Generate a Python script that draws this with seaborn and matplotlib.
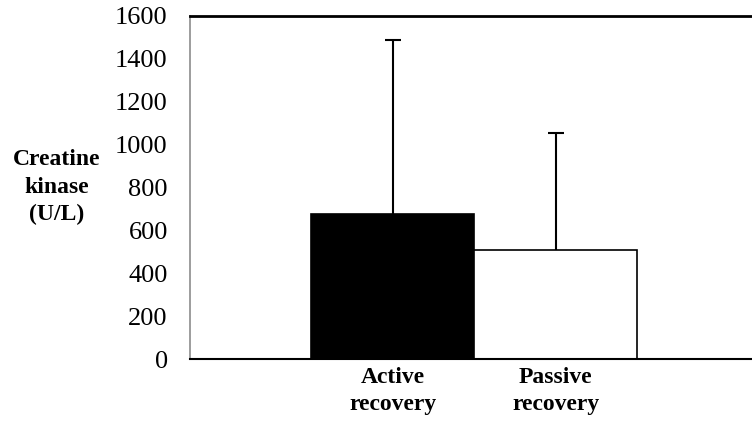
import matplotlib
matplotlib.use("Agg")
import matplotlib.pyplot as plt
import seaborn as sns

# 資料
groups = ["Active\nrecovery", "Passive\nrecovery"]
means = [676, 510]
sd_upper = [814, 545]
bar_colors = ["#000000", "#ffffff"]

sns.set_theme(style="white")
plt.rcParams['font.family'] = ['Liberation Serif', 'DejaVu Serif']
plt.rcParams['text.color'] = 'black'
plt.rcParams['axes.labelcolor'] = 'black'
plt.rcParams['xtick.color'] = 'black'
plt.rcParams['ytick.color'] = 'black'

fig = plt.figure(figsize=(7.52, 4.21), dpi=100)
ax = fig.add_axes([190 / 752, 62 / 421, 562 / 752, 343 / 421])

sns.barplot(x=groups, y=means, hue=groups, palette=bar_colors, legend=False,
            width=1.0, edgecolor="black", linewidth=1.2, errorbar=None, ax=ax)

# 只畫向上的誤差線 (隱藏下方的 cap)
eb = ax.errorbar([0, 1], means, yerr=[[0, 0], sd_upper], fmt="none",
                 ecolor="black", elinewidth=1.5, capsize=6, capthick=1.5)
eb.lines[1][0].set_visible(False)

ax.set_ylim(0, 1600)
ax.set_yticks(range(0, 1601, 200))
ax.set_xlim(-1.245, 2.203)

ax.tick_params(axis="y", labelsize=19, length=0, pad=16)
ax.tick_params(axis="x", labelsize=17, length=0, pad=6)
for lbl in ax.get_xticklabels():
    lbl.set_fontweight("bold")
    lbl.set_linespacing(1.35)

ax.set_xlabel("")
ax.set_ylabel("Creatine\nkinase\n(U/L)", rotation=0, fontsize=17,
              fontweight="bold", ha="center", va="center", linespacing=1.4)
ax.yaxis.set_label_coords(-0.2367, 0.5)

ax.spines["right"].set_visible(False)
ax.spines["left"].set_color("#8c8c8c")
ax.spines["left"].set_linewidth(1.2)
ax.spines["top"].set_color("black")
ax.spines["top"].set_linewidth(2)
ax.spines["bottom"].set_color("black")
ax.spines["bottom"].set_linewidth(1.5)

fig.savefig("out.png", dpi=100)
